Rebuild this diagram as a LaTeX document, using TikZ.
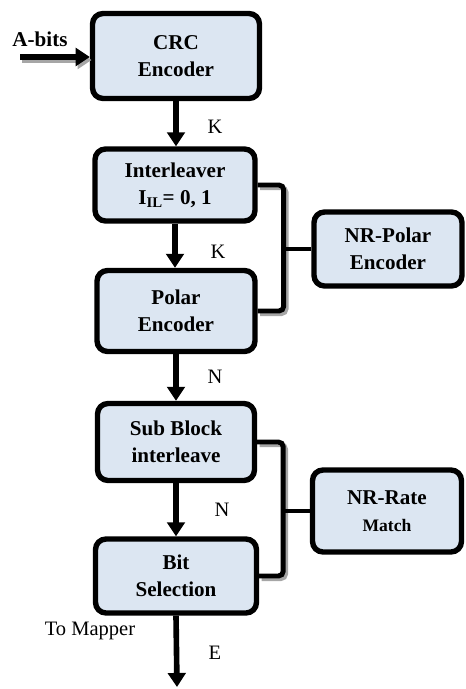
\documentclass[tikz,border=0pt]{standalone}
\usepackage{fontspec}
\setmainfont{Liberation Serif}
\usepackage{xcolor}
\usetikzlibrary{arrows.meta, positioning}
\definecolor{boxblue}{RGB}{220,230,242}
\tikzstyle{block}  = [rectangle, draw, line width=4.6pt, fill=boxblue,
                      rounded corners=9pt, align=center, inner sep=2pt,
                      font=\fontsize{18}{23}\selectfont\bfseries]
\tikzstyle{arrow}  = [-{Triangle[width=15pt,length=12pt]}, line width=4.8pt]
\tikzstyle{brace}  = [line width=4.2pt, rounded corners=4pt]
\tikzstyle{drop}   = [draw=black!35]
\tikzstyle{lbl}    = [font=\fontsize{17.5}{20}\selectfont]

\begin{document}
\begin{tikzpicture}[x=0.03cm, y=-0.03cm]
  \useasboundingbox (0,0) rectangle (465,689);

  \node[block, minimum width=5.01cm, minimum height=2.55cm] (crc) at (176,56) {CRC\\Encoder};
  \node[block, minimum width=4.8cm, minimum height=2.16cm] (il) at (175,185) {Interleaver\\I\textsubscript{IL}= 0, 1};
  \node[block, minimum width=4.74cm, minimum height=2.43cm] (polar) at (176,311) {Polar\\Encoder};
  \node[block, minimum width=4.71cm, minimum height=2.31cm] (sub) at (176,442) {Sub Block\\interleave};
  \node[block, minimum width=4.83cm, minimum height=2.22cm] (bit) at (176,576) {Bit\\Selection};
  \node[block, minimum width=4.44cm, minimum height=2.22cm] (nrp) at (388,249) {NR-Polar\\Encoder};
  \node[block, minimum width=4.47cm, minimum height=2.46cm] (nrr) at (387,511)
    {NR-Rate\\{\fontsize{15}{18}\selectfont Match}};

  \node[font=\fontsize{18}{22}\selectfont\bfseries] (abits) at (40,39) {A-bits};
  \coordinate (ain) at (20,57);
  \coordinate (eout) at (177,687);

  \draw[arrow, drop] ([shift={(1.5pt,-2.6pt)}]ain) -- ([shift={(1.5pt,-2.6pt)}]ain -| crc.west);
  \draw[arrow] (ain) -- (ain -| crc.west);

  \draw[arrow] (crc.south) -- (crc.south |- il.north);
  \draw[arrow] (il.south) -- (il.south |- polar.north);
  \draw[arrow] (polar.south) -- (polar.south |- sub.north);
  \draw[arrow] (sub.south) -- (sub.south |- bit.north);
  \draw[arrow] (bit.south) -- (eout);

  \node[lbl] (k1) at (215,127) {K};
  \node[lbl] (k2) at (218,252) {K};
  \node[lbl] (n1) at (215,377) {N};
  \node[lbl] (n2) at (222,510) {N};
  \node[lbl] (e1) at (215,653) {E};
  \node[lbl] (mapper) at (90,631) {To Mapper};

  \draw[brace, drop] ([shift={(2pt,-2.2pt)}]il.east) -- ++(26,0) |- ([shift={(2pt,-2.2pt)}]polar.east);
  \draw[brace] (il.east) -- ++(26,0) coordinate (b1) |- (polar.east);
  \draw[brace] (nrp.west) -- (nrp.west -| b1);

  \draw[brace, drop] ([shift={(2pt,-2.2pt)}]sub.east) -- ++(26,0) |- ([shift={(2pt,-2.2pt)}]bit.east);
  \draw[brace] (sub.east) -- ++(26,0) coordinate (b2) |- (bit.east);
  \draw[brace] (nrr.west) -- (nrr.west -| b2);
\end{tikzpicture}
\end{document}
